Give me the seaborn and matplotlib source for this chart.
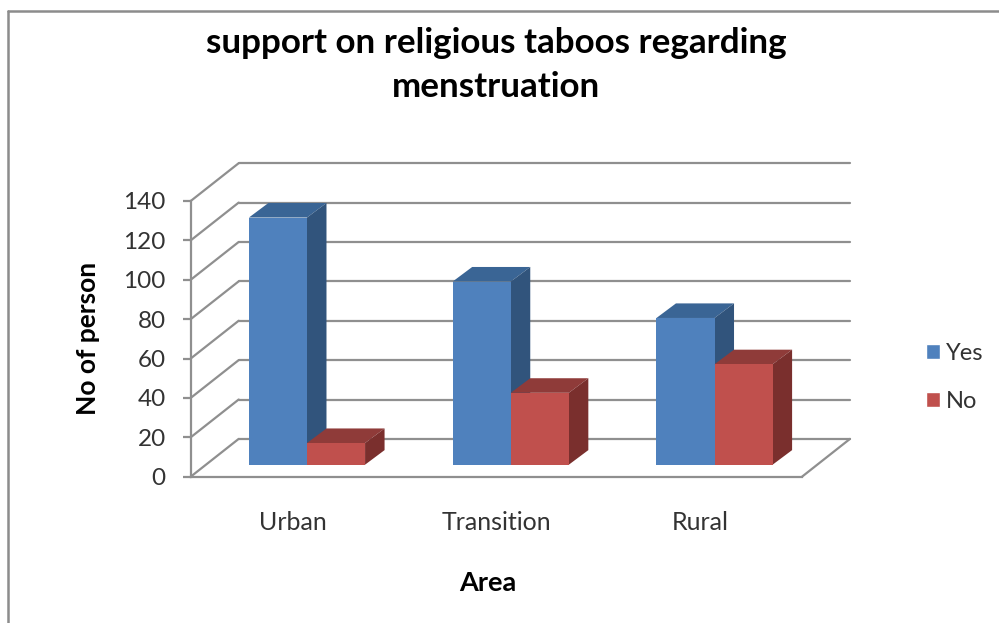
import matplotlib
matplotlib.use("Agg")
import matplotlib.pyplot as plt
import pandas as pd
import seaborn as sns
from matplotlib.lines import Line2D
from matplotlib.patches import Patch, Polygon

# ---------- DATA ----------
areas = ["Urban", "Transition", "Rural"]
yes_values = [125.5, 93, 74.5]
no_values = [11, 36.5, 51]
y_ticks = [0, 20, 40, 60, 80, 100, 120, 140]

# ---------- STYLE ----------
FRONT = {"Yes": "#4f81bd", "No": "#c0504d"}
TOP = {"Yes": "#3a6595", "No": "#8f3b39"}
SIDE = {"Yes": "#31547c", "No": "#7a2f2d"}
GRID = "#8f8f8f"
TEXT = "#333333"
LINE_W = 1.6

# fake 3D depth, in data units (x = categories, y = persons)
WALL_DX, WALL_DY = 0.2355, 19.2
BAR_DX, BAR_DY = 0.0957, 7.4
SHIFT_X, SHIFT_Y = 0.0707, 6.1

sns.set_theme(style="white")
plt.rcParams["font.family"] = ["Lato", "DejaVu Sans"]

df = pd.DataFrame({
    "Area": areas * 2,
    "Count": yes_values + no_values,
    "Answer": ["Yes"] * 3 + ["No"] * 3,
})

fig = plt.figure(figsize=(9.99, 6.23), dpi=100)
ax = fig.add_axes([190.7 / 999, 146.3 / 623, 611.3 / 999, 275.7 / 623])

sns.barplot(data=df, x="Area", y="Count", hue="Answer", hue_order=["Yes", "No"],
            palette=FRONT, saturation=1, width=0.57, legend=False, linewidth=0, ax=ax)
ax.set_xlim(-0.5, 2.5)
ax.set_ylim(0, 140)

# ---------- WALLS ----------
for t in y_ticks:
    ax.plot([-0.5, -0.5 + WALL_DX], [t, t + WALL_DY], color=GRID, lw=LINE_W, clip_on=False, zorder=1)
    ax.plot([-0.5 + WALL_DX, 2.5 + WALL_DX], [t + WALL_DY, t + WALL_DY],
            color=GRID, lw=LINE_W, clip_on=False, zorder=1)
ax.plot([2.5, 2.5 + WALL_DX], [0, WALL_DY], color=GRID, lw=LINE_W, clip_on=False, zorder=1)

# ---------- 3D BARS ----------
for level, (answer, container) in enumerate(zip(["Yes", "No"], ax.containers)):
    base_z = 2 + level * 2
    for bar in container:
        x0 = bar.get_x() + SHIFT_X
        x1 = x0 + bar.get_width()
        h = bar.get_height()
        bar.set_x(x0)
        bar.set_y(SHIFT_Y)
        bar.set_zorder(base_z + 1)
        bar.set_clip_on(False)
        top = h + SHIFT_Y
        ax.add_patch(Polygon([(x0, top), (x1, top), (x1 + BAR_DX, top + BAR_DY), (x0 + BAR_DX, top + BAR_DY)],
                             facecolor=TOP[answer], edgecolor="none", zorder=base_z, clip_on=False))
        ax.add_patch(Polygon([(x1, SHIFT_Y), (x1, top), (x1 + BAR_DX, top + BAR_DY), (x1 + BAR_DX, SHIFT_Y + BAR_DY)],
                             facecolor=SIDE[answer], edgecolor="none", zorder=base_z, clip_on=False))

# ---------- AXES ----------
for side in ["top", "right"]:
    ax.spines[side].set_visible(False)
for side in ["left", "bottom"]:
    ax.spines[side].set_color(GRID)
    ax.spines[side].set_linewidth(LINE_W)
ax.set_yticks(y_ticks)
ax.tick_params(axis="y", left=True, length=6, width=LINE_W, color=GRID, labelsize=17.5, labelcolor=TEXT, pad=12)
ax.tick_params(axis="x", bottom=False, labelsize=18, labelcolor=TEXT, pad=18.5)
ax.set_xlabel("Area", fontsize=19.5, fontweight="bold", color="black", va="center")
ax.xaxis.set_label_coords(0.486, -0.386)
ax.set_ylabel("No of person", fontsize=19, fontweight="bold", color="black", va="center")
ax.yaxis.set_label_coords(-0.168, 0.503)
ax.set_title("support on religious taboos regarding\nmenstruation", fontsize=25.2, fontweight="bold",
             color="black", pad=75, linespacing=1.46)

handles = [Patch(facecolor=FRONT["Yes"], label="Yes"), Patch(facecolor=FRONT["No"], label="No")]
fig.legend(handles=handles, loc="center left", bbox_to_anchor=(925.5 / 999, 1 - 377.5 / 623), frameon=False,
           fontsize=17, labelcolor=TEXT, handlelength=0.6, handleheight=0.6, handletextpad=0.25,
           labelspacing=1.13, borderpad=0, borderaxespad=0)

# ---------- OUTER FRAME ----------
fig.add_artist(Line2D([7.5 / 999, 7.5 / 999], [0, 1 - 11 / 623], color="#8c8c8c", lw=1.8))
fig.add_artist(Line2D([7.5 / 999, 1], [1 - 11 / 623, 1 - 11 / 623], color="#8c8c8c", lw=1.8))

fig.savefig("out.png", dpi=100)
